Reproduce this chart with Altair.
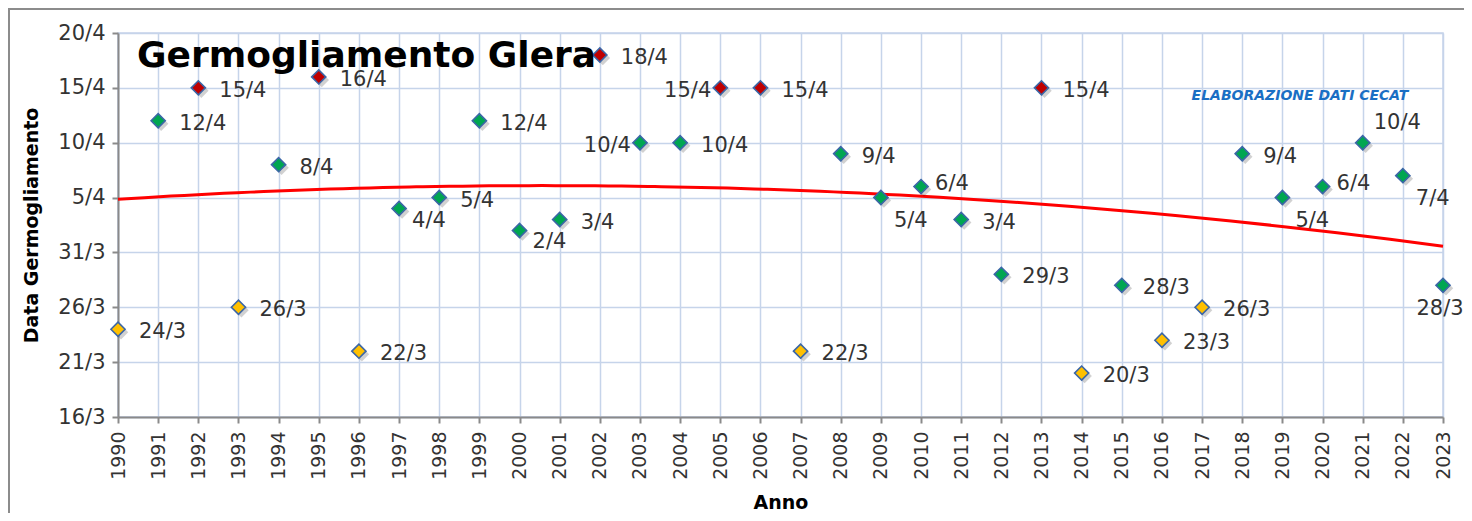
import altair as alt
import pandas as pd

# ---- data ----
YEARS = [1990, 1991, 1992, 1993, 1994, 1995, 1996, 1997, 1998, 1999,
         2000, 2001, 2002, 2003, 2004, 2005, 2006, 2007, 2008, 2009,
         2010, 2011, 2012, 2013, 2014, 2015, 2016, 2017, 2018, 2019,
         2020, 2021, 2022, 2023]
DATES = ["24/3", "12/4", "15/4", "26/3", "8/4", "16/4", "22/3", "4/4", "5/4", "12/4",
         "2/4", "3/4", "18/4", "10/4", "10/4", "15/4", "15/4", "22/3", "9/4", "5/4",
         "6/4", "3/4", "29/3", "15/4", "20/3", "28/3", "23/3", "26/3", "9/4", "5/4",
         "6/4", "10/4", "7/4", "28/3"]
Y_TICK_LABELS = ["16/3", "21/3", "26/3", "31/3", "5/4", "10/4", "15/4", "20/4"]

# label placement groups (as in the original chart)
LABEL_LEFT = [2003, 2005]
LABEL_BELOW_RIGHT = [1997, 2000]
LABEL_LOW_RIGHT = [2009, 2019, 2022]
LABEL_ABOVE_RIGHT = [2021]
LABEL_BELOW = [2023]
LABEL_UP_RIGHT = [2010, 2020]


def to_day(s):
    d, m = s.split("/")
    return int(d) + (31 if m == "4" else 0)


def pos_of(y):
    if y in LABEL_LEFT:
        return "left"
    if y in LABEL_BELOW_RIGHT:
        return "belowright"
    if y in LABEL_LOW_RIGHT:
        return "lowright"
    if y in LABEL_ABOVE_RIGHT:
        return "aboveright"
    if y in LABEL_BELOW:
        return "below"
    if y in LABEL_UP_RIGHT:
        return "upright"
    return "right"


df = pd.DataFrame({
    "year": YEARS,
    "date": DATES,
    "day": [to_day(s) for s in DATES],
    "pos": [pos_of(y) for y in YEARS],
})
y_ticks = [to_day(s) for s in Y_TICK_LABELS]

FONT = "DejaVu Sans"
AXIS_GREY = "#8a8a8a"

x_enc = alt.X("year:Q",
              scale=alt.Scale(domain=[1990, 2023], nice=False, zero=False),
              axis=alt.Axis(values=YEARS, format="d", labelAngle=270,
                            labelFontSize=19, labelPadding=8,
                            title="Anno", titleBaseline="alphabetic",
                            titleY=91))
y_enc = alt.Y("day:Q",
              scale=alt.Scale(domain=[16, 51], nice=False, zero=False),
              axis=alt.Axis(values=y_ticks,
                            labelExpr="datum.value > 31 ? (datum.value - 31) + '/4' : datum.value + '/3'",
                            labelFontSize=21, labelPadding=7,
                            title="Data Germogliamento", titlePadding=16))

base = alt.Chart(df).encode(x=x_enc, y=y_enc)

trend = base.transform_regression("year", "day", method="poly", order=2).mark_line(
    color="#ff0000", strokeWidth=3)

shadow = base.mark_point(shape="diamond", filled=True, size=210, color="#000000",
                         opacity=0.18).encode(xOffset=alt.value(3), yOffset=alt.value(3))

points = base.mark_point(shape="diamond", filled=True, size=200, opacity=1,
                         stroke="#3b66a6", strokeWidth=1.6).encode(
    color=alt.Color("day:Q",
                    scale=alt.Scale(type="threshold", domain=[27, 45],
                                    range=["#ffc000", "#00a651", "#c00000"]),
                    legend=None))

label_specs = [
    ("right", "left", 21, 3),
    ("upright", "left", 14, -3),
    ("left", "right", -9, 3),
    ("belowright", "left", 13, 12),
    ("lowright", "left", 13, 23),
    ("aboveright", "left", 11, -20),
    ("below", "center", -3, 24),
]
labels = []
for pos, align, dx, dy in label_specs:
    labels.append(
        base.transform_filter(alt.datum.pos == pos).mark_text(
            align=align, baseline="middle", dx=dx, dy=dy, font=FONT, fontSize=21,
            color="#333333").encode(text="date:N"))

frame = alt.Chart(pd.DataFrame({"k": [0]})).mark_rect(
    fill=None, stroke="#8c8c8c", strokeWidth=2).encode(
    x=alt.value(-109), x2=alt.value(2000), y=alt.value(-24), y2=alt.value(1000))

title = alt.Chart(pd.DataFrame({"t": ["Germogliamento Glera"]})).mark_text(
    align="left", baseline="alphabetic", font=FONT, fontSize=36, fontWeight="bold",
    color="#000000").encode(text="t:N", x=alt.value(19), y=alt.value(34))

credit = alt.Chart(pd.DataFrame({"t": ["ELABORAZIONE DATI CECAT"]})).mark_text(
    align="center", baseline="alphabetic", font=FONT, fontSize=14, fontWeight="bold",
    fontStyle="italic", color="#1a6fc4").encode(text="t:N", x=alt.value(1182), y=alt.value(67))

chart = alt.layer(frame, trend, shadow, points, *labels, title, credit).properties(
    width=1325, height=384,
    autosize=alt.AutoSizeParams(type="none"),
    padding={"left": 110, "top": 25, "right": 21, "bottom": 96},
).configure_axis(
    labelFont=FONT, labelColor="#333333",
    titleFont=FONT, titleFontSize=19, titleFontWeight="bold", titleColor="#000000",
    gridColor="#c6d4ea", gridWidth=1.5,
    domainColor=AXIS_GREY, domainWidth=2,
    tickColor=AXIS_GREY, tickWidth=2, tickSize=6,
).configure_view(stroke="#c6d4ea", strokeWidth=1.5)

chart.save("out.html", embed_options={"renderer": "svg", "actions": False})
